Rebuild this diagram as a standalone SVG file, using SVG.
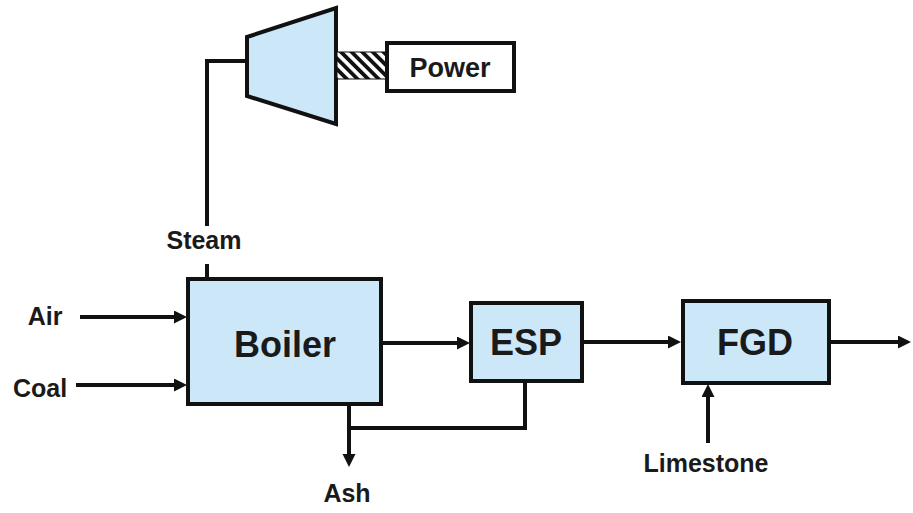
<svg xmlns="http://www.w3.org/2000/svg" width="913" height="513" viewBox="0 0 913 513">
<style>
.box{fill:#cce8f8;stroke:#111;stroke-width:4}
.wbox{fill:#fff;stroke:#111;stroke-width:4}
.ln{fill:none;stroke:#111;stroke-width:4}
.big{font-family:"Liberation Sans",Arial,sans-serif;font-weight:bold;font-size:36px;fill:#1a1a1a;text-anchor:middle}
.lbl{font-family:"Liberation Sans",Arial,sans-serif;font-weight:bold;font-size:25px;fill:#1a1a1a;text-anchor:middle}
</style>
<defs>
<marker id="ah" markerUnits="userSpaceOnUse" markerWidth="15" markerHeight="14" refX="2" refY="6.5" orient="auto">
<path d="M0,0 L13,6.5 L0,13 z" fill="#111"/>
</marker>
<pattern id="hatch" patternUnits="userSpaceOnUse" width="7.5" height="7.5" patternTransform="rotate(-45)">
<rect width="7.5" height="7.5" fill="#fff"/>
<rect width="3.8" height="7.5" fill="#111"/>
</pattern>
</defs>
<rect width="913" height="513" fill="#fff"/>
<g id="connectors">
<polyline class="ln" points="247,61 207,61 207,226"/>
<line class="ln" x1="207" y1="264" x2="207" y2="279"/>
<line class="ln" x1="80" y1="317" x2="176" y2="317" marker-end="url(#ah)"/>
<line class="ln" x1="76" y1="385" x2="176" y2="385" marker-end="url(#ah)"/>
<line class="ln" x1="381" y1="343" x2="459" y2="343" marker-end="url(#ah)"/>
<line class="ln" x1="582" y1="342" x2="670" y2="342" marker-end="url(#ah)"/>
<line class="ln" x1="829" y1="342" x2="900" y2="342" marker-end="url(#ah)"/>
<line class="ln" x1="708" y1="443" x2="708" y2="395" marker-end="url(#ah)"/>
<line class="ln" x1="349" y1="404" x2="349" y2="456" marker-end="url(#ah)"/>
<polyline class="ln" points="525,381 525,428 349,428"/>
</g>
<g id="turbine">
<polygon class="box" points="247,37 336,8 336,124 247,96"/>
</g>
<g id="shaft">
<rect x="337" y="52" width="50" height="27" fill="url(#hatch)" stroke="#111" stroke-width="1"/>
</g>
<g id="power">
<rect class="wbox" x="387" y="43" width="127" height="48"/>
<text class="lbl" x="450" y="77" style="font-size:27px">Power</text>
</g>
<g id="boiler">
<rect class="box" x="188" y="279" width="193" height="125"/>
<text class="big" x="285" y="357">Boiler</text>
</g>
<g id="esp">
<rect class="box" x="471" y="303" width="111" height="78"/>
<text class="big" x="526" y="355">ESP</text>
</g>
<g id="fgd">
<rect class="box" x="683" y="301" width="146" height="82"/>
<text class="big" x="755" y="355">FGD</text>
</g>
<g id="labels">
<text class="lbl" x="204" y="249">Steam</text>
<text class="lbl" x="45" y="325">Air</text>
<text class="lbl" x="40" y="397">Coal</text>
<text class="lbl" x="347" y="502">Ash</text>
<text class="lbl" x="706" y="472">Limestone</text>
</g>
</svg>
